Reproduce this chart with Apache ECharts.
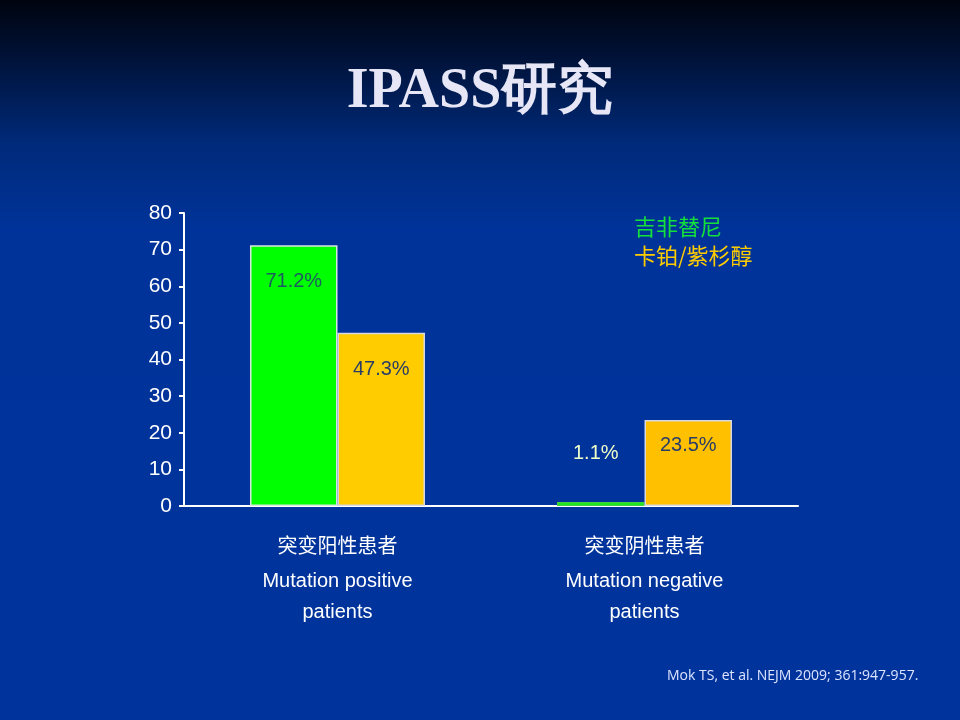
<!DOCTYPE html>
<html>
<head>
<meta charset="utf-8">
<script src="https://cdn.jsdelivr.net/npm/echarts@6/dist/echarts.min.js"></script>
<style>
html,body{margin:0;padding:0;width:960px;height:720px;overflow:hidden;}
#c{width:960px;height:720px;}
</style>
</head>
<body>
<div id="c"></div>
<script>
const categories = ['突变阳性患者', '突变阴性患者'];
const categoryEnglish = ['Mutation positive\npatients', 'Mutation negative\npatients'];
const seriesNames = ['吉非替尼', '卡铂/紫杉醇'];
const gefitinib = [71.2, 1.1];
const carboplatin = [47.3, 23.5];
const yTicks = [0, 10, 20, 30, 40, 50, 60, 70, 80];

const chart = echarts.init(document.getElementById('c'));

const labelBase = {show: true, fontSize: 20, fontFamily: 'Liberation Sans, Arial, sans-serif', formatter: p => p.value + '%'};

chart.setOption({
  backgroundColor: {
    type: 'linear', x: 0, y: 0, x2: 0, y2: 1,
    colorStops: [
      {offset: 0, color: '#00040f'},
      {offset: 0.08, color: '#001238'},
      {offset: 0.2, color: '#002a7a'},
      {offset: 0.32, color: '#00339a'},
      {offset: 1, color: '#00349c'}
    ]
  },
  animation: false,
  title: {
    text: 'IPASS研究',
    left: 'center',
    top: 60,
    textStyle: {color: '#e6e6f6', fontSize: 56, fontWeight: 'bold', fontFamily: 'Liberation Serif, Times New Roman, serif'}
  },
  legend: {
    orient: 'vertical',
    left: 624,
    top: 211,
    icon: 'none',
    itemWidth: 0,
    itemGap: 7,
    data: [
      {name: seriesNames[0], textStyle: {color: '#14e03c'}},
      {name: seriesNames[1], textStyle: {color: '#ffcc00'}}
    ],
    textStyle: {fontSize: 22, fontFamily: 'Noto Sans CJK SC, sans-serif'}
  },
  grid: {left: 184, right: 162, top: 213, bottom: 214, containLabel: false},
  xAxis: {
    type: 'category',
    data: categories,
    axisLine: {lineStyle: {color: '#ffffff', width: 2}},
    axisTick: {show: false},
    axisLabel: {
      margin: 18,
      interval: 0,
      formatter: (v, i) => '{cn|' + v + '}\n{en|' + categoryEnglish[i].split('\n').join('}\n{en|') + '}',
      rich: {
        cn: {color: '#ffffff', fontSize: 20, lineHeight: 42, fontFamily: 'Noto Sans CJK SC, sans-serif'},
        en: {color: '#ffffff', fontSize: 20, lineHeight: 31, fontFamily: 'Liberation Sans, Arial, sans-serif'}
      }
    }
  },
  yAxis: {
    type: 'value',
    min: 0, max: 80, interval: 10,
    splitLine: {show: false},
    axisLine: {show: true, lineStyle: {color: '#ffffff', width: 2}},
    axisTick: {show: true, length: 5, lineStyle: {color: '#ffffff', width: 2}},
    axisLabel: {color: '#ffffff', fontSize: 21, margin: 12, fontFamily: 'Liberation Sans, Arial, sans-serif',
      formatter: v => yTicks.indexOf(v) >= 0 ? String(v) : ''}
  },
  series: [
    {
      name: seriesNames[0],
      type: 'bar',
      barGap: '0%',
      barCategoryGap: '43%',
      itemStyle: {color: '#00ff00', borderColor: '#d8e8e0', borderWidth: 1.5},
      data: [
        {value: gefitinib[0], label: Object.assign({}, labelBase, {position: 'insideTop', distance: 26, color: '#1d5a62'})},
        {value: gefitinib[1], itemStyle: {borderColor: '#40d040'}, label: Object.assign({}, labelBase, {position: 'top', distance: 38, color: '#f0ffc8', offset: [-5, 0]})}
      ]
    },
    {
      name: seriesNames[1],
      type: 'bar',
      itemStyle: {color: '#ffcc00', borderColor: '#d8d8e0', borderWidth: 1.5},
      data: [
        {value: carboplatin[0], label: Object.assign({}, labelBase, {position: 'insideTop', distance: 27, color: '#2a3d66'})},
        {value: carboplatin[1], itemStyle: {color: '#ffc000'}, label: Object.assign({}, labelBase, {position: 'insideTop', distance: 16, color: '#2a3d66'})}
      ]
    }
  ],
  graphic: [
    {
      type: 'text', left: 667, top: 669, silent: true,
      style: {text: 'Mok TS, et al. NEJM 2009; 361:947-957.', fill: '#dde4ff', fontSize: 14, fontFamily: 'Open Sans, sans-serif'}
    }
  ]
});
</script>
</body>
</html>
